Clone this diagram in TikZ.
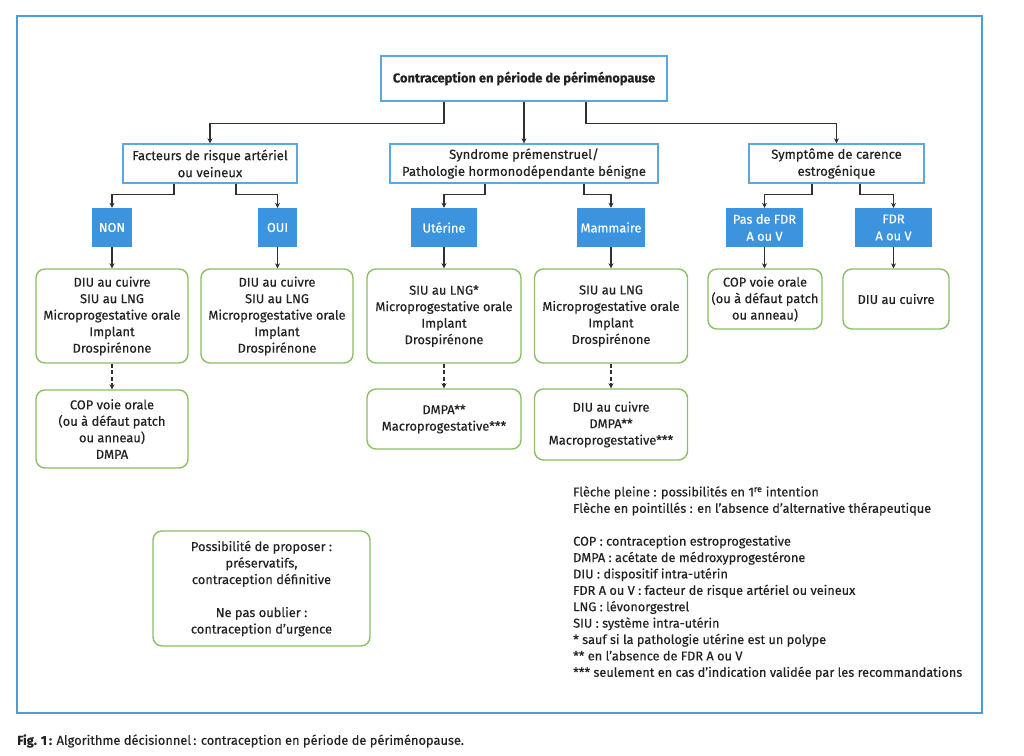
\documentclass[tikz,border=0pt]{standalone}
\usepackage{fontspec}
\setmainfont[FakeBold=0.3]{Fira Sans}
\usetikzlibrary{arrows.meta,calc}
\definecolor{frameblue}{HTML}{4A9DE0}
\definecolor{hdrblue}{HTML}{5AA8E2}
\definecolor{fillblue}{HTML}{3D94DE}
\definecolor{gboxgreen}{HTML}{8CC063}
\definecolor{linegrey}{HTML}{303030}
\definecolor{textdark}{HTML}{222222}
% font sizes fitted to the reference text widths
\newlength\mw
\newlength\msum
\newcommand\addw[1]{\settowidth\mw{\fontsize{10}{12}\selectfont#1}\addtolength\msum{\mw}}
\newcommand\fitsize[3]{\setlength\msum{0pt}#3\pgfmathsetmacro#1{10*#2/\msum}}
\fitsize\bodysize{888.7}{\addw{Microprogestative orale}\addw{DIU au cuivre}\addw{Drospirénone}\addw{COP voie orale}\addw{(ou à défaut patch}\addw{Macroprogestative***}\addw{Possibilité de proposer :}\addw{contraception définitive}}
\fitsize\hdrsize{822}{\addw{Facteurs de risque artériel}\addw{ou veineux}\addw{Syndrome prémenstruel/}\addw{Pathologie hormonodépendante bénigne}\addw{Symptôme de carence}\addw{estrogénique}}
\fitsize\catsize{229.2}{\addw{Mammaire}\addw{Utérine}\addw{NON}\addw{Pas de FDR}\addw{A ou V}}
\fitsize\rootsize{262.3}{\addw{\bfseries Contraception en période de périménopause}}
\fitsize\legsize{558.3}{\addw{*** seulement en cas d’indication validée par les recommandations}\addw{** en l’absence de FDR A ou V}}
\fitsize\capsize{446.7}{\addw{\textbf{Fig. 1\,:} Algorithme décisionnel\,: contraception en période de périménopause.}}
\begin{document}
\begin{tikzpicture}[x=1pt,y=-1pt,
  hdr/.style={draw=hdrblue, line width=1.4pt, fill=white, align=center, font=\fontsize{\hdrsize}{17}\selectfont, text=textdark, inner sep=0pt},
  cat/.style={fill=fillblue, align=center, text=white, font=\fontsize{\catsize}{17}\selectfont, inner sep=0pt},
  opt/.style={draw=gboxgreen, line width=1.4pt, rounded corners=9pt, fill=white, align=center, font=\fontsize{\bodysize}{16.5}\selectfont, text=textdark, inner sep=0pt},
  arr/.style={draw=linegrey, line width=1.2pt, -{Stealth[length=5pt,width=5pt]}},
  darr/.style={arr, dash pattern=on 4pt off 2.5pt}]
\useasboundingbox (0,0) rectangle (1024,755);
\fill[white] (0,0) rectangle (1024,755);
\draw[frameblue, line width=1.6pt] (17,16) rectangle (982,713);

% level 0
\node[hdr, minimum width=286pt, minimum height=45pt, font=\bfseries\fontsize{\rootsize}{17}\selectfont] (root) at (524,78.5) {Contraception en période de périménopause};
% level 1
\node[hdr, minimum width=174pt, minimum height=39pt] (fac) at (210,163.5) {Facteurs de risque artériel\\ou veineux};
\node[hdr, minimum width=268pt, minimum height=39pt] (syn) at (524,163.5) {Syndrome prémenstruel/\\Pathologie hormonodépendante bénigne};
\node[hdr, minimum width=175pt, minimum height=39pt] (sym) at (836.5,163.5) {Symptôme de carence\\estrogénique};
% level 2
\node[cat, minimum width=40pt, minimum height=39pt] (non) at (112,227.5) {NON};
\node[cat, minimum width=39pt, minimum height=39pt] (oui) at (277.5,227.5) {OUI};
\node[cat, minimum width=66pt, minimum height=39pt] (ute) at (444,227.5) {Utérine};
\node[cat, minimum width=68pt, minimum height=39pt] (mam) at (611,227.5) {Mammaire};
\node[cat, minimum width=77pt, minimum height=39pt] (pas) at (764.5,227.5) {Pas de FDR\\A ou V};
\node[cat, minimum width=77pt, minimum height=39pt] (fdr) at (893.5,227.5) {FDR\\A ou V};
% level 3
\node[opt, minimum width=152pt, minimum height=94pt] (g1) at (112,316) {DIU au cuivre\\SIU au LNG\\Microprogestative orale\\Implant\\Drospirénone};
\node[opt, minimum width=152pt, minimum height=94pt] (g2) at (277,316) {DIU au cuivre\\SIU au LNG\\Microprogestative orale\\Implant\\Drospirénone};
\node[opt, minimum width=154pt, minimum height=94pt] (g4) at (444,316) {SIU au LNG*\\Microprogestative orale\\Implant\\Drospirénone};
\node[opt, minimum width=153pt, minimum height=94pt] (g5) at (611,316) {SIU au LNG\\Microprogestative orale\\Implant\\Drospirénone};
\node[opt, minimum width=114pt, minimum height=60pt] (g8) at (765,299) {COP voie orale\\(ou à défaut patch\\ou anneau)};
\node[opt, minimum width=106pt, minimum height=60pt] (g9) at (896,299) {DIU au cuivre};
% level 4
\node[opt, minimum width=152pt, minimum height=78pt] (g3) at (112,429) {COP voie orale\\(ou à défaut patch\\ou anneau)\\DMPA};
\node[opt, minimum width=154pt, minimum height=60pt] (g6) at (444,419) {DMPA**\\Macroprogestative***};
\node[opt, minimum width=153pt, minimum height=71pt] (g7) at (611,424.5) {DIU au cuivre\\DMPA**\\Macroprogestative***};
% other box
\node[opt, minimum width=217pt, minimum height=115pt] (g10) at (261.5,588.5) {Possibilité de proposer :\\préservatifs,\\contraception définitive\\[16.5pt]Ne pas oublier :\\contraception d’urgence};

% connectors
\draw[arr] ([xshift=-80pt]root.south) -- ++(0,22) -| (fac.north);
\draw[arr] (root.south) -- (syn.north);
\draw[arr] ([xshift=62pt]root.south) -- ++(0,22) -| (sym.north);
\draw[arr] ([xshift=-36pt]fac.south) -- ++(0,11) -| (non.north);
\draw[arr] ([xshift=26pt]fac.south) -- ++(0,11) -| (oui.north);
\draw[arr] ([xshift=-39pt]syn.south) -- ++(0,11) -| (ute.north);
\draw[arr] ([xshift=60pt]syn.south) -- ++(0,11) -| (mam.north);
\draw[arr] ([xshift=-24.5pt]sym.south) -- ++(0,11) -| (pas.north);
\draw[arr] ([xshift=23.5pt]sym.south) -- ++(0,11) -| (fdr.north);
\draw[arr] (non.south) -- (non.south |- g1.north);
\draw[arr] (oui.south) -- (oui.south |- g2.north);
\draw[arr] (ute.south) -- (ute.south |- g4.north);
\draw[arr] (mam.south) -- (mam.south |- g5.north);
\draw[arr] (pas.south) -- (pas.south |- g8.north);
\draw[arr] (fdr.south) -- (fdr.south |- g9.north);
\draw[darr] (g1.south) -- (g3.north);
\draw[darr] (g4.south) -- (g6.north);
\draw[darr] (g5.south) -- (g7.north);

% legend
\node[anchor=north west, align=left, inner sep=0pt, text=textdark, font=\fontsize{\legsize}{16.4}\selectfont] (leg) at (573,486) {Flèche pleine : possibilités en 1\textsuperscript{re} intention\\Flèche en pointillés : en l’absence d’alternative thérapeutique\\[16.4pt]COP : contraception estroprogestative\\DMPA : acétate de médroxyprogestérone\\DIU : dispositif intra-utérin\\FDR A ou V : facteur de risque artériel ou veineux\\LNG : lévonorgestrel\\SIU : système intra-utérin\\* sauf si la pathologie utérine est un polype\\** en l’absence de FDR A ou V\\*** seulement en cas d’indication validée par les recommandations};

% caption
\node[anchor=west, inner sep=0pt, text=textdark, font=\fontsize{\capsize}{14}\selectfont] (cap) at (17,741) {\textbf{Fig. 1\,:} Algorithme décisionnel\,: contraception en période de périménopause.};
\end{tikzpicture}
\end{document}
